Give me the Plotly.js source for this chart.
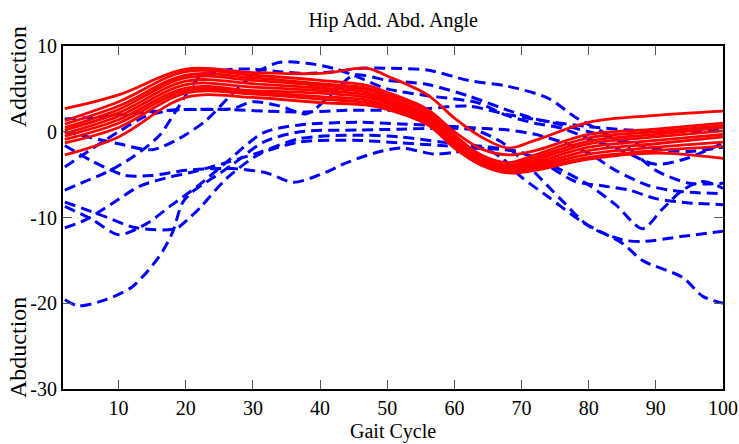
<!DOCTYPE html>
<html>
<head>
<meta charset="utf-8">
<script src="https://cdn.plot.ly/plotly-3.0.1.min.js"></script>
<style>html,body{margin:0;padding:0;background:#fff;}#chart{width:739px;height:444px;}</style>
</head>
<body>
<div id="chart"></div>
<script>
// ---- Data ----
const xTicks = [10, 20, 30, 40, 50, 60, 70, 80, 90, 100];
const yTicks = [-30, -20, -10, 0, 10];

// Red (solid) curves share one x grid
const redX = [2, 10, 20, 30, 40, 47, 50, 56, 60, 64, 68, 72, 80, 90, 100];
const red0 = [2.7, 4.3, 7.3, 6.9, 6.8, 7.4, 6.5, 4.3, 1.6, -0.6, -1.9, -1.0, 1.1, 1.9, 2.4];
const red1 = [1.3, 3.5, 7.0, 6.6, 6.0, 5.4, 4.6, 2.6, 0.0, -2.0, -2.7, -2.2, -0.3, 0.3, 1.0];
const red2 = [0.9, 3.0, 6.6, 6.3, 5.6, 5.1, 4.3, 2.3, -0.4, -2.7, -3.6, -2.7, -0.7, 0.0, 0.7];
const red3 = [0.5, 2.6, 6.3, 6.0, 5.4, 4.9, 4.0, 2.0, -0.7, -3.0, -3.9, -3.0, -1.1, -0.3, 0.5];
const red4 = [0.2, 2.2, 5.9, 5.6, 5.1, 4.6, 3.7, 1.8, -0.9, -3.2, -4.1, -3.3, -1.4, -0.6, 0.1];
const red5 = [-0.2, 1.8, 5.5, 5.2, 4.8, 4.3, 3.5, 1.6, -1.1, -3.4, -4.3, -3.6, -1.8, -1.0, -0.3];
const red6 = [-0.5, 1.4, 5.1, 4.8, 4.5, 4.0, 3.3, 1.4, -1.3, -3.6, -4.5, -3.9, -2.2, -1.4, -0.6];
const red7 = [-0.9, 1.0, 4.8, 4.6, 4.1, 3.7, 3.0, 1.2, -1.5, -3.7, -4.6, -4.1, -2.6, -1.8, -1.2];
const red8 = [-1.3, 0.5, 4.5, 4.4, 3.8, 3.4, 2.8, 1.0, -1.7, -3.8, -4.7, -4.3, -3.0, -2.2, -1.7];
const red9 = [-2.7, -0.6, 4.0, 4.0, 3.4, 3.1, 2.6, 0.8, -1.9, -3.9, -4.8, -4.5, -3.2, -2.5, -3.1];

// Blue (dashed) curves, each with its own x points
const blueAX = [2, 6, 11, 15, 20, 27, 32, 36, 40, 44, 48, 52, 57, 60, 64, 67, 70, 74, 79, 85, 88, 94, 97, 100];
const blueAY = [-1.6, -3.4, -5.1, -5.1, -4.5, -4.3, -4.8, -5.9, -5.0, -3.6, -2.5, -1.9, -2.6, -2.4, -1.9, -3.0, -5.3, -7.6, -10.5, -13.0, -15.0, -17.0, -19.2, -20.0];
const blueBX = [2, 4, 8, 12, 16, 18, 19.5, 21, 24, 27, 31.6, 37, 46, 52, 58, 63, 67, 71, 76, 80, 85, 88, 94, 100];
const blueBY = [-19.6, -20.3, -19.6, -18.1, -14.6, -11.8, -8.3, -7.0, -5.4, -3.8, -1.2, 0.0, 0.2, 0.3, 0.4, 0.2, -1.2, -4.0, -8.0, -11.0, -12.6, -12.8, -12.2, -11.6];
const blueCX = [2, 5, 9, 13, 17, 21, 26, 31, 37, 45, 52, 58, 64, 68, 72, 76, 80, 84, 88, 91, 94, 97, 100];
const blueCY = [-11.2, -10.3, -8.4, -6.4, -5.4, -4.7, -3.6, -2.4, -0.8, -0.4, -0.6, -1.2, -1.7, -2.1, -3.0, -4.5, -6.2, -8.5, -11.3, -9.0, -6.8, -5.8, -6.6];
const blueDX = [2, 6, 10, 14, 18, 22, 26, 31.6, 37, 46, 52, 58, 64, 68, 72, 76, 80, 84, 89, 94, 100];
const blueDY = [-8.7, -10.2, -12.0, -10.8, -8.5, -6.2, -3.6, -0.1, 0.8, 1.1, 0.9, 0.7, 0.4, 0.2, -0.3, -1.2, -2.5, -4.5, -6.3, -7.0, -7.2];
const blueEX = [2, 7, 12.6, 18.5, 20.2, 22.2, 26, 31, 37, 45, 52, 58, 64, 70, 74, 78, 82, 86, 90, 95, 100];
const blueEY = [-8.2, -9.6, -11.2, -11.3, -10.3, -8.8, -5.5, -2.6, -1.2, -1.0, -1.3, -1.6, -1.9, -2.4, -4.0, -5.8, -6.3, -6.8, -7.8, -8.3, -8.5];
const blueFX = [2, 5, 8, 12, 16, 19, 22, 26, 30, 34, 38, 42, 46, 50, 56, 62, 68, 74, 78, 85, 90, 95, 100];
const blueFY = [-6.8, -5.8, -4.8, -3.0, -0.5, 3.0, 6.3, 7.2, 7.3, 7.0, 6.8, 7.0, 7.4, 7.4, 7.2, 6.0, 5.3, 3.9, 1.7, -1.3, -4.5, -6.0, -6.0];
const blueGX = [2, 6, 10, 14, 18, 22, 27, 30, 34, 38, 42, 45, 50, 56, 62, 68, 72, 76, 80, 85, 90, 95, 100];
const blueGY = [-4.1, -2.0, 0.0, 1.8, 2.5, 2.6, 2.7, 3.5, 3.0, 2.1, 4.6, 6.6, 6.0, 5.5, 4.2, 2.5, 1.5, 0.8, 0.0, -1.0, -2.0, -2.3, -1.8];
const blueHX = [2, 6, 10, 15, 19, 23, 27, 30.7, 34, 38, 42, 45, 50, 56, 63.4, 67.8, 72, 76, 80, 85, 90, 95, 100];
const blueHY = [0.0, -0.7, -1.4, -2.1, -0.8, 1.3, 4.5, 7.0, 8.1, 8.0, 7.4, 6.6, 5.0, 4.2, 3.4, 1.9, 1.0, 0.4, -0.8, -2.2, -3.8, -3.0, -1.3];
const blueIX = [2, 8, 14, 20, 26, 32, 38, 44, 50, 56, 62, 68, 74, 80, 86, 92, 100];
const blueIY = [1.5, 1.8, 2.3, 2.6, 2.6, 2.4, 2.3, 2.5, 2.5, 2.7, 3.0, 2.0, 1.2, 0.6, 0.2, 0.0, 0.2];

const blueSeries = [
  [blueAX, blueAY], [blueBX, blueBY], [blueCX, blueCY], [blueDX, blueDY], [blueEX, blueEY],
  [blueFX, blueFY], [blueGX, blueGY], [blueHX, blueHY], [blueIX, blueIY]
];
const redSeries = [red0, red1, red2, red3, red4, red5, red6, red7, red8, red9];

const traces = [];
blueSeries.forEach(function (s) {
  traces.push({
    x: s[0], y: s[1], type: 'scatter', mode: 'lines', hoverinfo: 'skip',
    line: {color: '#0000FF', width: 3, dash: '11px,6px', shape: 'spline', smoothing: 0.8}
  });
});
redSeries.forEach(function (ys) {
  traces.push({
    x: redX, y: ys, type: 'scatter', mode: 'lines', hoverinfo: 'skip',
    line: {color: '#FF0000', width: 2.8, shape: 'spline', smoothing: 1}
  });
});

const serif = 'Liberation Serif, Times New Roman, serif';
const axisCommon = {
  showline: true, linecolor: '#000', linewidth: 2, mirror: 'ticks',
  ticks: 'inside', ticklen: 9, tickwidth: 1, tickcolor: '#555',
  showgrid: false, zeroline: false,
  tickfont: {family: serif, size: 20, color: '#000'}
};

const layout = {
  width: 739, height: 444,
  margin: {l: 63, r: 16, t: 46, b: 55},
  paper_bgcolor: '#fff', plot_bgcolor: '#fff',
  showlegend: false,
  title: {text: 'Hip Add. Abd. Angle', font: {family: serif, size: 20, color: '#000'},
          x: 0.532, xanchor: 'center', y: 0.956, yanchor: 'middle', yref: 'container'},
  xaxis: Object.assign({}, axisCommon, {range: [1.72, 100], tickvals: xTicks, ticktext: xTicks.map(String)}),
  yaxis: Object.assign({}, axisCommon, {range: [-30, 10], tickvals: yTicks, ticktext: yTicks.map(String), ticklabelstandoff: 0}),
  annotations: [
    {text: 'Gait Cycle', xref: 'paper', yref: 'paper', x: 0.5, y: -0.125, xanchor: 'center', yanchor: 'middle',
     showarrow: false, font: {family: serif, size: 20, color: '#000'}},
    {text: 'Adduction', xref: 'paper', yref: 'paper', x: -0.068, y: 0.909, xanchor: 'center', yanchor: 'middle',
     textangle: -90, showarrow: false, font: {family: serif, size: 24, color: '#000'}},
    {text: 'Abduction', xref: 'paper', yref: 'paper', x: -0.068, y: 0.12, xanchor: 'center', yanchor: 'middle',
     textangle: -90, showarrow: false, font: {family: serif, size: 24, color: '#000'}}
  ]
};

Plotly.newPlot('chart', traces, layout, {staticPlot: true, displayModeBar: false});
</script>
</body>
</html>
